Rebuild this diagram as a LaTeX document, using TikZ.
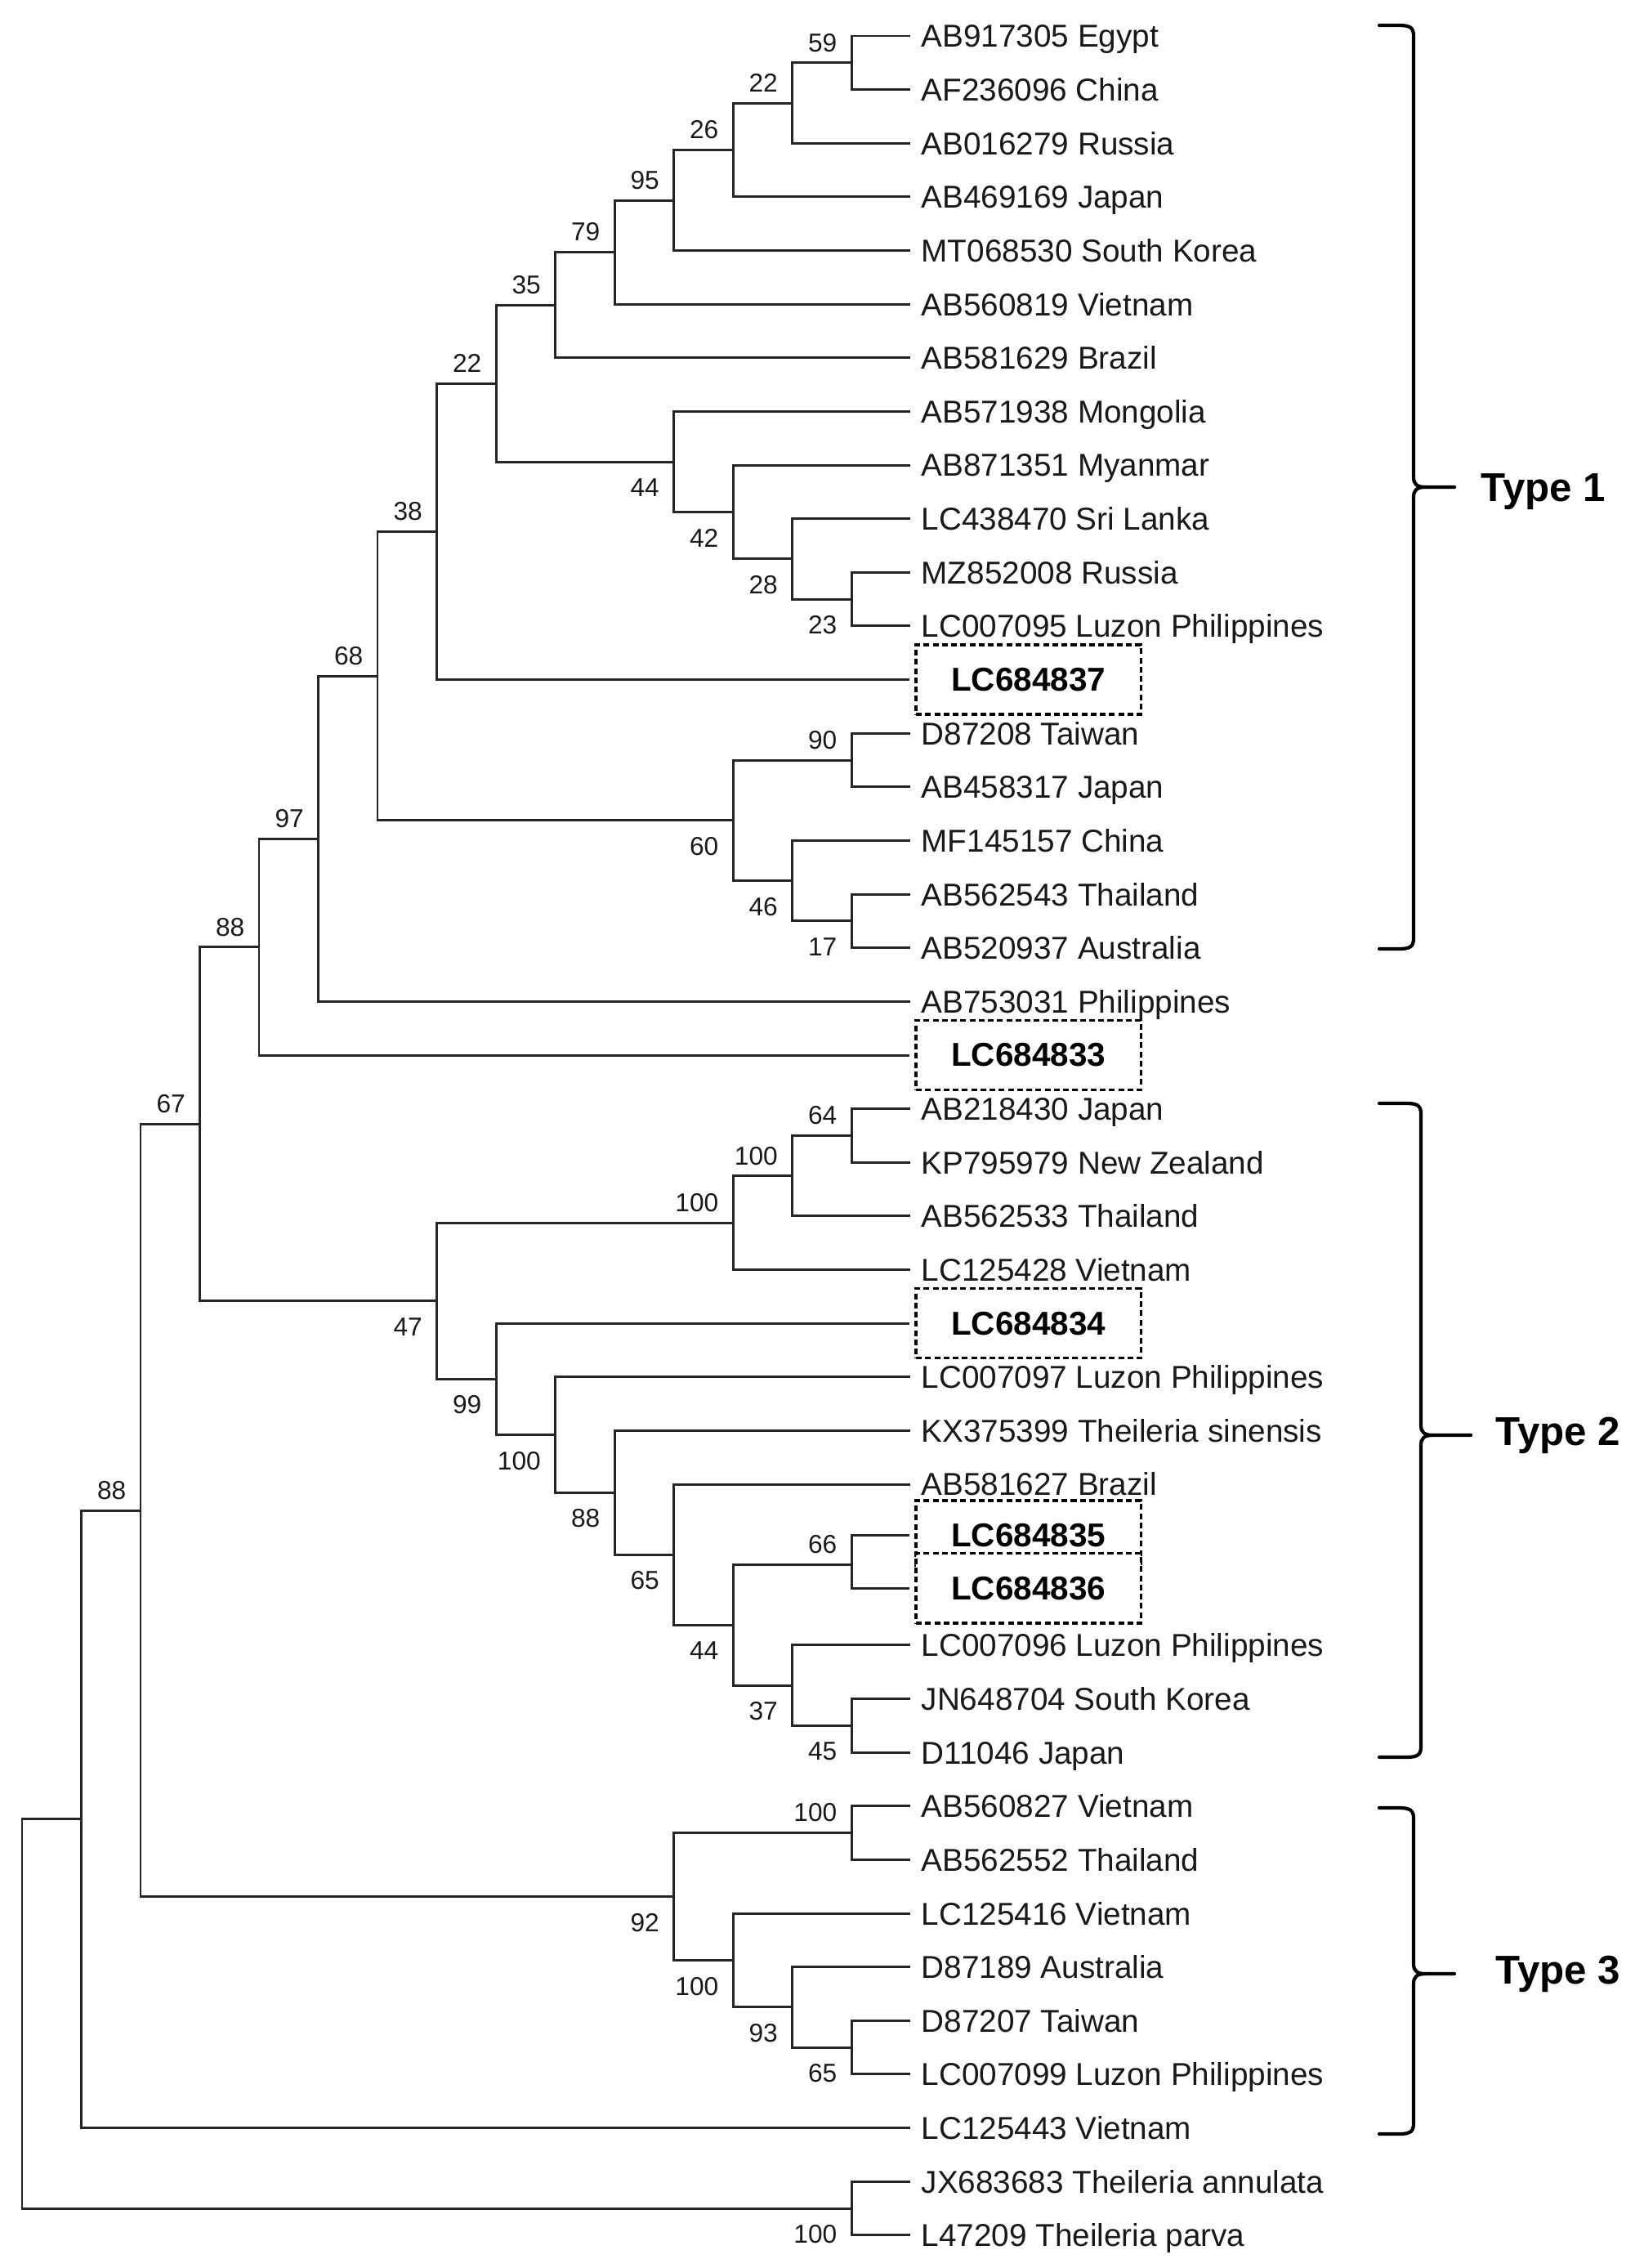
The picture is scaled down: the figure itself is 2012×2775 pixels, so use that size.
\documentclass[tikz,border=0pt]{standalone}
\usepackage{fontspec}
\setmainfont{Liberation Sans}
\usetikzlibrary{positioning}
\tikzset{
  taxon/.style={anchor=west, inner xsep=0.13cm, inner ysep=0pt, text height=7.9pt, text depth=0pt,
    font=\fontsize{11}{13}\selectfont, text=black!90},
  isolate/.style={anchor=west, draw=black, dash pattern=on 2pt off 1.2pt, line width=0.95pt, fill=white,
    minimum width=2.75cm, minimum height=0.85cm, outer xsep=0.08cm, inner sep=0pt,
    font=\fontsize{11.5}{13}\bfseries\selectfont},
  boot/.style={inner sep=0pt, text height=6.5pt, text depth=0pt, font=\fontsize{9}{10}\selectfont, text=black!90},
  clade/.style={anchor=west, inner sep=0pt, text height=10pt, text depth=0pt, font=\fontsize{14}{16}\bfseries\selectfont},
  branch/.style={draw=black!85, line width=0.85pt},
  bracket/.style={draw=black, line width=1.2pt, line cap=round}
}
\begin{document}
\begin{tikzpicture}[x=0.01cm, y=-0.01cm]
  \useasboundingbox (0,0) rectangle (2012,2775);
  % taxa
  \path
    (1114,44.0) node[taxon] (l1) {AB917305 Egypt}
    (1114,109.6) node[taxon] (l2) {AF236096 China}
    (1114,175.3) node[taxon] (l3) {AB016279 Russia}
    (1114,240.9) node[taxon] (l4) {AB469169 Japan}
    (1114,306.5) node[taxon] (l5) {MT068530 South Korea}
    (1114,372.2) node[taxon] (l6) {AB560819 Vietnam}
    (1114,437.8) node[taxon] (l7) {AB581629 Brazil}
    (1114,503.4) node[taxon] (l8) {AB571938 Mongolia}
    (1114,569.0) node[taxon] (l9) {AB871351 Myanmar}
    (1114,634.7) node[taxon] (l10) {LC438470 Sri Lanka}
    (1114,700.3) node[taxon] (l11) {MZ852008 Russia}
    (1114,765.9) node[taxon] (l12) {LC007095 Luzon Philippines}
    (1113,831.6) node[isolate] (l13) {LC684837}
    (1114,897.2) node[taxon] (l14) {D87208 Taiwan}
    (1114,962.8) node[taxon] (l15) {AB458317 Japan}
    (1114,1028.5) node[taxon] (l16) {MF145157 China}
    (1114,1094.1) node[taxon] (l17) {AB562543 Thailand}
    (1114,1159.7) node[taxon] (l18) {AB520937 Australia}
    (1114,1225.3) node[taxon] (l19) {AB753031 Philippines}
    (1113,1291.0) node[isolate] (l20) {LC684833}
    (1114,1356.6) node[taxon] (l21) {AB218430 Japan}
    (1114,1422.2) node[taxon] (l22) {KP795979 New Zealand}
    (1114,1487.9) node[taxon] (l23) {AB562533 Thailand}
    (1114,1553.5) node[taxon] (l24) {LC125428 Vietnam}
    (1113,1619.1) node[isolate] (l25) {LC684834}
    (1114,1684.8) node[taxon] (l26) {LC007097 Luzon Philippines}
    (1114,1750.4) node[taxon] (l27) {KX375399 Theileria sinensis}
    (1114,1816.0) node[taxon] (l28) {AB581627 Brazil}
    (1113,1878.6) node[isolate] (l29) {LC684835}
    (1113,1943.3) node[isolate] (l30) {LC684836}
    (1114,2012.9) node[taxon] (l31) {LC007096 Luzon Philippines}
    (1114,2078.5) node[taxon] (l32) {JN648704 South Korea}
    (1114,2144.2) node[taxon] (l33) {D11046 Japan}
    (1114,2209.8) node[taxon] (l34) {AB560827 Vietnam}
    (1114,2275.4) node[taxon] (l35) {AB562552 Thailand}
    (1114,2341.1) node[taxon] (l36) {LC125416 Vietnam}
    (1114,2406.7) node[taxon] (l37) {D87189 Australia}
    (1114,2472.3) node[taxon] (l38) {D87207 Taiwan}
    (1114,2537.9) node[taxon] (l39) {LC007099 Luzon Philippines}
    (1114,2603.6) node[taxon] (l40) {LC125443 Vietnam}
    (1114,2669.2) node[taxon] (l41) {JX683683 Theileria annulata}
    (1114,2734.8) node[taxon] (l42) {L47209 Theileria parva};
  % internal nodes
  \path
    (1042,76.8) coordinate (n59)
    (969.5,126.1) coordinate (n22a)
    (897,183.5) coordinate (n26)
    (824.5,245.0) coordinate (n95)
    (752,308.6) coordinate (n79)
    (679.5,373.2) coordinate (n35)
    (1042,733.1) coordinate (n23)
    (969.5,683.9) coordinate (n28)
    (897,626.5) coordinate (n42)
    (824.5,565.0) coordinate (n44a)
    (607,469.1) coordinate (n22b)
    (534.5,650.4) coordinate (n38)
    (1042,930.0) coordinate (n90)
    (1042,1126.9) coordinate (n17)
    (969.5,1077.7) coordinate (n46)
    (897,1003.9) coordinate (n60)
    (462,827.2) coordinate (n68)
    (389.5,1026.3) coordinate (n97)
    (317,1158.7) coordinate (n88a)
    (1042,1389.4) coordinate (n64)
    (969.5,1438.7) coordinate (n100a)
    (897,1496.1) coordinate (n100b)
    (1042,2111.4) coordinate (n45)
    (969.5,2062.2) coordinate (n37)
    (1042,1914.5) coordinate (n66)
    (897,1988.4) coordinate (n44b)
    (824.5,1902.2) coordinate (n65a)
    (752,1826.3) coordinate (n88b)
    (679.5,1755.6) coordinate (n100c)
    (607,1687.4) coordinate (n99)
    (534.5,1591.8) coordinate (n47)
    (244.5,1375.3) coordinate (n67)
    (1042,2242.6) coordinate (n100d)
    (1042,2505.1) coordinate (n65b)
    (969.5,2455.9) coordinate (n93)
    (897,2398.5) coordinate (n100e)
    (824.5,2320.6) coordinate (n92)
    (172,1848.0) coordinate (n88c)
    (99.5,2225.8) coordinate (n1)
    (1042,2702.0) coordinate (n100f)
    (27,2463.9) coordinate (root);
  \begin{scope}[branch]
    \draw (l1.west) -| (n59) |- (l2.west);
    \draw (n59) -| (n22a) |- (l3.west);
    \draw (n22a) -| (n26) |- (l4.west);
    \draw (n26) -| (n95) |- (l5.west);
    \draw (n95) -| (n79) |- (l6.west);
    \draw (n79) -| (n35) |- (l7.west);
    \draw (l11.west) -| (n23) |- (l12.west);
    \draw (l10.west) -| (n28) |- (n23);
    \draw (l9.west) -| (n42) |- (n28);
    \draw (l8.west) -| (n44a) |- (n42);
    \draw (n35) -| (n22b) |- (n44a);
    \draw (n22b) -| (n38) |- (l13.west);
    \draw (l14.west) -| (n90) |- (l15.west);
    \draw (l17.west) -| (n17) |- (l18.west);
    \draw (l16.west) -| (n46) |- (n17);
    \draw (n90) -| (n60) |- (n46);
    \draw (n38) -| (n68) |- (n60);
    \draw (n68) -| (n97) |- (l19.west);
    \draw (n97) -| (n88a) |- (l20.west);
    \draw (l21.west) -| (n64) |- (l22.west);
    \draw (n64) -| (n100a) |- (l23.west);
    \draw (n100a) -| (n100b) |- (l24.west);
    \draw (l32.west) -| (n45) |- (l33.west);
    \draw (l31.west) -| (n37) |- (n45);
    \draw (l29.west) -| (n66) |- (l30.west);
    \draw (n66) -| (n44b) |- (n37);
    \draw (l28.west) -| (n65a) |- (n44b);
    \draw (l27.west) -| (n88b) |- (n65a);
    \draw (l26.west) -| (n100c) |- (n88b);
    \draw (l25.west) -| (n99) |- (n100c);
    \draw (n100b) -| (n47) |- (n99);
    \draw (n88a) -| (n67) |- (n47);
    \draw (l34.west) -| (n100d) |- (l35.west);
    \draw (l38.west) -| (n65b) |- (l39.west);
    \draw (l37.west) -| (n93) |- (n65b);
    \draw (l36.west) -| (n100e) |- (n93);
    \draw (n100d) -| (n92) |- (n100e);
    \draw (n67) -| (n88c) |- (n92);
    \draw (n88c) -| (n1) |- (l40.west);
    \draw (l41.west) -| (n100f) |- (l42.west);
    \draw (n1) -| (root) |- (n100f);
  \end{scope}
  % bootstrap values
  \node[boot, above left=0.13cm and 0.17cm of n59] (b59) {59};
  \node[boot, above left=0.13cm and 0.17cm of n22a] (b22a) {22};
  \node[boot, above left=0.13cm and 0.17cm of n26] (b26) {26};
  \node[boot, above left=0.13cm and 0.17cm of n95] (b95) {95};
  \node[boot, above left=0.13cm and 0.17cm of n79] (b79) {79};
  \node[boot, above left=0.13cm and 0.17cm of n35] (b35) {35};
  \node[boot, above left=0.13cm and 0.17cm of n22b] (b22b) {22};
  \node[boot, above left=0.13cm and 0.17cm of n38] (b38) {38};
  \node[boot, above left=0.13cm and 0.17cm of n90] (b90) {90};
  \node[boot, above left=0.13cm and 0.17cm of n68] (b68) {68};
  \node[boot, above left=0.13cm and 0.17cm of n97] (b97) {97};
  \node[boot, above left=0.13cm and 0.17cm of n88a] (b88a) {88};
  \node[boot, above left=0.13cm and 0.17cm of n64] (b64) {64};
  \node[boot, above left=0.13cm and 0.17cm of n100a] (b100a) {100};
  \node[boot, above left=0.13cm and 0.17cm of n100b] (b100b) {100};
  \node[boot, above left=0.13cm and 0.17cm of n66] (b66) {66};
  \node[boot, above left=0.13cm and 0.17cm of n67] (b67) {67};
  \node[boot, above left=0.13cm and 0.17cm of n100d] (b100d) {100};
  \node[boot, above left=0.13cm and 0.17cm of n88c] (b88c) {88};
  \node[boot, below left=0.19cm and 0.17cm of n23] (b23) {23};
  \node[boot, below left=0.19cm and 0.17cm of n28] (b28) {28};
  \node[boot, below left=0.19cm and 0.17cm of n42] (b42) {42};
  \node[boot, below left=0.19cm and 0.17cm of n44a] (b44a) {44};
  \node[boot, below left=0.19cm and 0.17cm of n17] (b17) {17};
  \node[boot, below left=0.19cm and 0.17cm of n46] (b46) {46};
  \node[boot, below left=0.19cm and 0.17cm of n60] (b60) {60};
  \node[boot, below left=0.19cm and 0.17cm of n45] (b45) {45};
  \node[boot, below left=0.19cm and 0.17cm of n37] (b37) {37};
  \node[boot, below left=0.19cm and 0.17cm of n44b] (b44b) {44};
  \node[boot, below left=0.19cm and 0.17cm of n65a] (b65a) {65};
  \node[boot, below left=0.19cm and 0.17cm of n88b] (b88b) {88};
  \node[boot, below left=0.19cm and 0.17cm of n100c] (b100c) {100};
  \node[boot, below left=0.19cm and 0.17cm of n99] (b99) {99};
  \node[boot, below left=0.19cm and 0.17cm of n47] (b47) {47};
  \node[boot, below left=0.19cm and 0.17cm of n65b] (b65b) {65};
  \node[boot, below left=0.19cm and 0.17cm of n93] (b93) {93};
  \node[boot, below left=0.19cm and 0.17cm of n100e] (b100e) {100};
  \node[boot, below left=0.19cm and 0.17cm of n92] (b92) {92};
  \node[boot, below left=0.19cm and 0.17cm of n100f] (b100f) {100};
  % type brackets
  \draw[bracket] (1688,31) -- (1712,31) .. controls (1726,31) and (1730,34) .. (1730,44)
    -- (1730,584) .. controls (1730,592) and (1734,596) .. (1744,596) -- (1780,596);
  \draw[bracket] (1688,1161) -- (1712,1161) .. controls (1726,1161) and (1730,1158) .. (1730,1148)
    -- (1730,608) .. controls (1730,600) and (1734,596) .. (1744,596);
  \draw[bracket] (1688,1350) -- (1721,1350) .. controls (1735,1350) and (1739,1353) .. (1739,1363)
    -- (1739,1744) .. controls (1739,1752) and (1743,1756) .. (1753,1756) -- (1800,1756);
  \draw[bracket] (1688,2150) -- (1721,2150) .. controls (1735,2150) and (1739,2147) .. (1739,2137)
    -- (1739,1768) .. controls (1739,1760) and (1743,1756) .. (1753,1756);
  \draw[bracket] (1688,2212) -- (1712,2212) .. controls (1726,2212) and (1730,2215) .. (1730,2225)
    -- (1730,2403) .. controls (1730,2411) and (1734,2415) .. (1744,2415) -- (1780,2415);
  \draw[bracket] (1688,2611) -- (1712,2611) .. controls (1726,2611) and (1730,2608) .. (1730,2598)
    -- (1730,2427) .. controls (1730,2419) and (1734,2415) .. (1744,2415);
  \node[clade] (type1) at (1812,596) {Type 1};
  \node[clade] (type2) at (1830,1751) {Type 2};
  \node[clade] (type3) at (1830,2410) {Type 3};
\end{tikzpicture}
\end{document}
